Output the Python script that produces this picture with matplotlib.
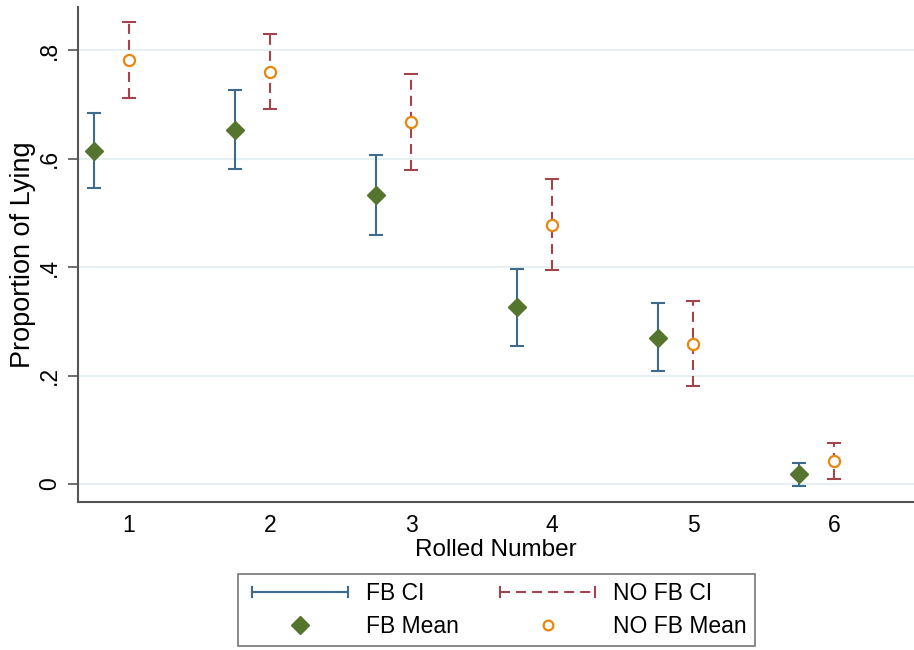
import matplotlib
matplotlib.use('Agg')
import matplotlib.pyplot as plt
from matplotlib.lines import Line2D
from matplotlib.legend_handler import HandlerLine2D

plt.rcParams['font.family'] = ['Liberation Sans', 'DejaVu Sans']

# ── data ────────────────────────────────────────────────────────────────
rolled       = [1, 2, 3, 4, 5, 6]
fb_mean      = [0.614, 0.653, 0.533, 0.326, 0.270, 0.018]
fb_lo        = [0.545, 0.580, 0.459, 0.254, 0.209, -0.004]
fb_hi        = [0.684, 0.726, 0.606, 0.396, 0.333, 0.038]
nofb_mean    = [0.782, 0.760, 0.667, 0.477, 0.259, 0.043]
nofb_lo      = [0.711, 0.692, 0.579, 0.394, 0.181, 0.010]
nofb_hi      = [0.852, 0.829, 0.756, 0.562, 0.338, 0.075]
yticks       = [0, 0.2, 0.4, 0.6, 0.8]
ytick_labels = ['0', '.2', '.4', '.6', '.8']

FB_CI_COLOR     = '#3d6a8f'
NOFB_CI_COLOR   = '#a5434b'
FB_MEAN_COLOR   = '#55752f'
NOFB_MEAN_COLOR = '#e8860f'
DASHES = (4.8, 2.9)

fig = plt.figure(figsize=(9.14, 6.5), dpi=100)
ax = fig.add_axes([0.0853, 0.2277, 0.9147, 0.7613])

fb_x = [r - 0.25 for r in rolled]

# CIs
fb_err = [[m - lo for m, lo in zip(fb_mean, fb_lo)],
          [hi - m for m, hi in zip(fb_mean, fb_hi)]]
nofb_err = [[m - lo for m, lo in zip(nofb_mean, nofb_lo)],
            [hi - m for m, hi in zip(nofb_mean, nofb_hi)]]

ax.errorbar(fb_x, fb_mean, yerr=fb_err, fmt='none', ecolor=FB_CI_COLOR,
            elinewidth=1.5, capsize=4.7, capthick=1.5, zorder=2)
eb = ax.errorbar(rolled, nofb_mean, yerr=nofb_err, fmt='none', ecolor=NOFB_CI_COLOR,
                 elinewidth=1.5, capsize=4.7, capthick=1.5, zorder=2)
for lc in eb[2]:
    lc.set_linestyle((0, DASHES))

# means
ax.plot(fb_x, fb_mean, 'D', color=FB_MEAN_COLOR, markersize=9, zorder=3)
ax.plot(rolled, nofb_mean, 'o', markerfacecolor='white', markeredgecolor=NOFB_MEAN_COLOR,
        markeredgewidth=1.6, markersize=8, zorder=3)

ax.set_xlim(0.638, 6.567)
ax.set_ylim(-0.033, 0.879)
ax.set_xticks(rolled)
ax.set_yticks(yticks)
ax.set_yticklabels(ytick_labels, rotation=90, va='center')
ax.tick_params(axis='both', labelsize=16.5)
ax.tick_params(axis='y', length=7, width=1.2, color='#555555', pad=5)
ax.tick_params(axis='x', length=0, pad=9)
ax.grid(axis='y', color='#e6eff1', linewidth=1.5, zorder=0)
ax.set_axisbelow(True)

for side in ['top', 'right']:
    ax.spines[side].set_visible(False)
for side in ['left', 'bottom']:
    ax.spines[side].set_color('#555555')
    ax.spines[side].set_linewidth(1.5)

ax.set_xlabel('Rolled Number', fontsize=17.5, labelpad=1)
ax.set_ylabel('Proportion of Lying', fontsize=19.5, labelpad=2)

# ── legend ──────────────────────────────────────────────────────────────
h_fb_ci = Line2D([0, 1], [0, 0], color=FB_CI_COLOR, lw=1.5, marker='|',
                 markersize=9, markeredgewidth=1.5)
h_nofb_ci = Line2D([0, 1], [0, 0], color=NOFB_CI_COLOR, lw=1.5, linestyle=(0, DASHES),
                   marker='|', markersize=9, markeredgewidth=1.5)
h_fb_m = Line2D([], [], linestyle='none', marker='D', color=FB_MEAN_COLOR, markersize=9)
h_nofb_m = Line2D([], [], linestyle='none', marker='o', markerfacecolor='white',
                  markeredgecolor=NOFB_MEAN_COLOR, markeredgewidth=1.6, markersize=7)

leg = fig.legend([h_fb_ci, h_fb_m, h_nofb_ci, h_nofb_m],
                 ['FB CI', 'FB Mean', 'NO FB CI', 'NO FB Mean'],
                 ncol=2, loc='center', bbox_to_anchor=(0.543, 0.0615),
                 fontsize=16.5, handlelength=4.75, handletextpad=0.5, columnspacing=1.5,
                 labelspacing=0.45, borderpad=0.35, borderaxespad=0, fancybox=False,
                 framealpha=1, edgecolor='#777777',
                 handler_map={h_fb_ci: HandlerLine2D(numpoints=2),
                              h_nofb_ci: HandlerLine2D(numpoints=2),
                              h_fb_m: HandlerLine2D(numpoints=1),
                              h_nofb_m: HandlerLine2D(numpoints=1)})
leg.get_frame().set_linewidth(1.2)

fig.savefig('out.png', dpi=100)
